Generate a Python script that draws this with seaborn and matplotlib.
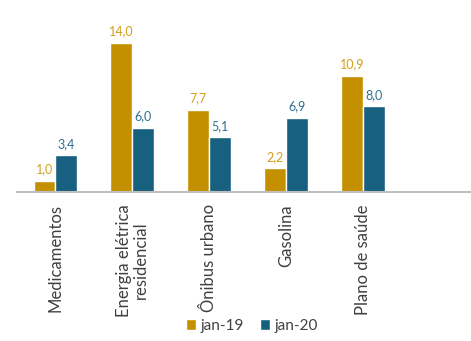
import pandas as pd
import numpy as np
import matplotlib.pyplot as plt
import seaborn as sns

categorias = ['Medicamentos', 'Energia elétrica\nresidencial', 'Ônibus urbano', 'Gasolina', 'Plano de saúde']
jan19 = [1.0, 14.0, 7.7, 2.2, 10.9]
jan20 = [3.4, 6.0, 5.1, 6.9, 8.0]
series = ['jan-19', 'jan-20']
cores = ['#C49000', '#17607F']
cores_txt = ['#D49F1C', '#2F7090']

df = pd.DataFrame({'cat': categorias * 2,
                   'serie': [series[0]] * 5 + [series[1]] * 5,
                   'valor': jan19 + jan20})

sns.set_style('white')
plt.rcParams['font.family'] = ['Lato', 'DejaVu Sans']

fig = plt.figure(figsize=(4.71, 3.41), dpi=100)
ax = fig.add_axes([0.036, 0.438, 0.964, 0.562])
sns.barplot(data=df, x='cat', y='valor', hue='serie', order=categorias,
            palette=cores, saturation=1, width=0.57, edgecolor='white',
            linewidth=1, ax=ax, legend=True)

for cont, c in enumerate(ax.containers):
    vals = jan19 if cont == 0 else jan20
    ax.bar_label(c, labels=[f'{v:.1f}'.replace('.', ',') for v in vals],
                 padding=4, fontsize=9, color=cores_txt[cont])

ax.set_ylim(0, 18)
ax.set_xlim(-0.5, 5.4)
ax.set_xlabel('')
ax.set_ylabel('')
ax.set_yticks([])
for s in ['top', 'right', 'left']:
    ax.spines[s].set_visible(False)
ax.spines['bottom'].set_color('#BFBFBF')
ax.spines['bottom'].set_linewidth(1.5)

ax.set_xticks(range(5))
ax.set_xticklabels(categorias, rotation=90, fontsize=12, color='#404040',
                   linespacing=1.0)
ax.tick_params(axis='x', which='major', length=0, pad=9)
ax.set_xticks(np.arange(-0.5, 5.0, 1), minor=True)
ax.tick_params(axis='x', which='minor', length=5, width=1, color='#A6A6A6',
               direction='out')

h, l = ax.get_legend_handles_labels()
ax.legend(h, l, loc='center', bbox_to_anchor=(0.535, 0.045),
          bbox_transform=fig.transFigure, ncol=2, frameon=False,
          fontsize=11, handlelength=0.7, handleheight=0.7,
          handletextpad=0.3, columnspacing=1.0, labelcolor='#404040')

plt.savefig('out.png', dpi=100)
